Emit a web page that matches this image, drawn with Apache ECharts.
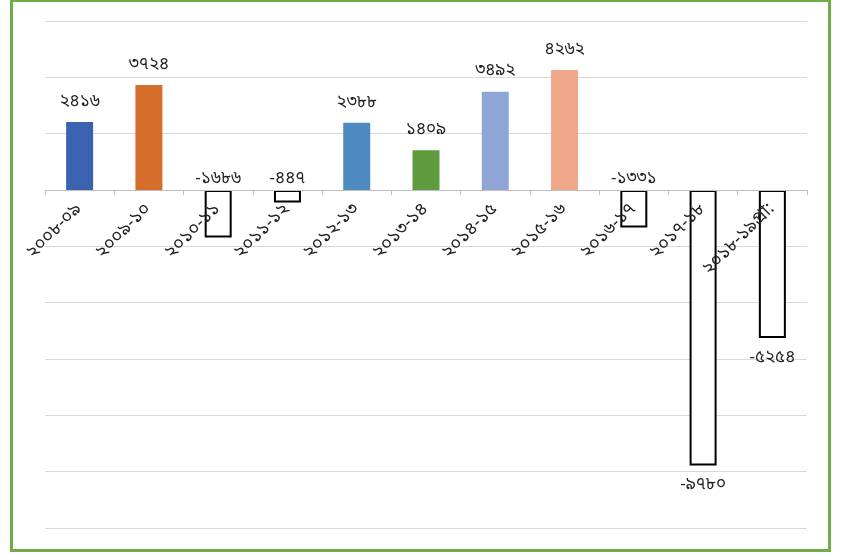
<!DOCTYPE html>
<html>
<head>
<meta charset="utf-8">
<script src="https://cdn.jsdelivr.net/npm/echarts@6/dist/echarts.min.js"></script>
<style>
    html, body { margin: 0; padding: 0; background: #fff; }
    #frame {
        position: absolute; left: 10px; top: -1px;
        width: 815px; height: 547px;
        border: 3px solid #70ad47;
    }
    #main { position: absolute; left: 0; top: 0; width: 845px; height: 555px; }
</style>
</head>
<body>
<div id="frame"></div>
<div id="main"></div>
<script>
    // অর্থবছর
    const categories = ['২০০৮-০৯', '২০০৯-১০', '২০১০-১১', '২০১১-১২', '২০১২-১৩', '২০১৩-১৪',
        '২০১৪-১৫', '২০১৫-১৬', '২০১৬-১৭', '২০১৭-১৮', '২০১৮-১৯প্রা:'];
    const values = [2416, 3724, -1686, -447, 2388, 1409, 3492, 4262, -1331, -9780, -5254];
    const barColors = ['#3a62ae', '#d56e2a', null, null, '#4e89bf', '#5e9b3e',
        '#8fa5d6', '#f0a78a', null, null, null];
    // লেবেল অবস্থান
    const labelPos = ['top', 'top', 'top', 'top', 'top', 'top', 'top', 'top', 'top', 'bottom', 'bottom'];

    const yMin = -12000, yMax = 6000, yStep = 2000;

    const bnDigits = '০১২৩৪৫৬৭৮৯';
    const toBn = (n) => String(n).replace(/[0-9]/g, d => bnDigits[+d]);

    const font = "'Noto Sans Bengali', 'Noto Sans', sans-serif";

    const gridTop = 21, gridBottom = 27, chartH = 555;
    // x অক্ষকে শূন্য রেখায় সরাতে
    const plotH = chartH - gridTop - gridBottom;
    const zeroOffset = -(0 - yMin) / (yMax - yMin) * plotH;

    var myChart = echarts.init(document.getElementById('main'));

    let data = values.map((v, i) => {
        let item = { value: v };
        if (barColors[i]) {
            item.itemStyle = { color: barColors[i] };
        } else {
            item.itemStyle = { color: '#ffffff', borderColor: '#000000', borderWidth: 2 };
        }
        item.label = {
            position: labelPos[i],
            distance: labelPos[i] === 'bottom' ? 12 : (v < 0 ? 2 : 11)
        };
        return item;
    });

    let option = {
        animation: false,
        grid: { left: 45, right: 38, top: gridTop, bottom: gridBottom, outerBoundsMode: 'none', containLabel: false },
        xAxis: {
            type: 'category',
            data: categories,
            z: 5,
            offset: zeroOffset,
            axisLine: { onZero: false, lineStyle: { color: '#bfbfbf', width: 1 } },
            axisTick: { show: true, length: 5, lineStyle: { color: '#bfbfbf' } },
            axisLabel: {
                rotate: 45,
                margin: 17,
                interval: 0,
                color: '#222',
                fontSize: 18,
                fontFamily: font
            }
        },
        yAxis: {
            type: 'value',
            min: yMin,
            max: yMax,
            interval: yStep,
            axisLabel: { show: false },
            axisLine: { show: false },
            axisTick: { show: false },
            splitLine: { lineStyle: { color: '#d9d9d9', width: 1 } }
        },
        series: [{
            type: 'bar',
            data: data,
            barWidth: 27,
            label: {
                show: true,
                color: '#222',
                fontSize: 17,
                fontFamily: font,
                formatter: (p) => toBn(p.value)
            }
        }]
    };
    myChart.setOption(option);
</script>
</body>
</html>
